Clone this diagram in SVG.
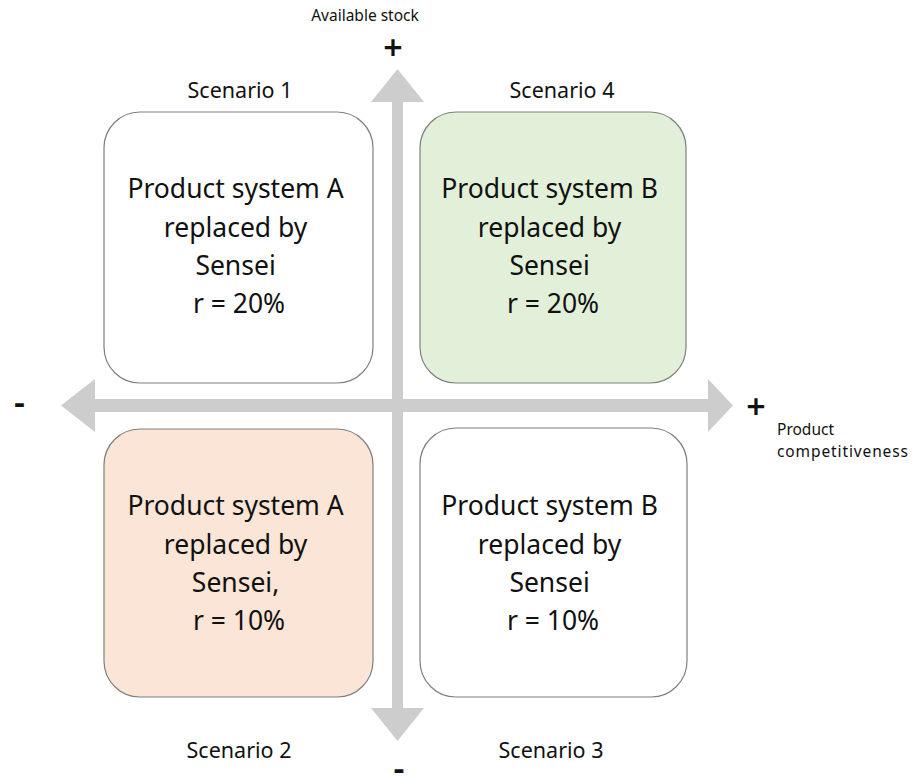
<svg xmlns="http://www.w3.org/2000/svg" width="912" height="776" viewBox="0 0 912 776">
  <style>
    .box { stroke: #7f7f7f; stroke-width: 1.2; }
    .axis { fill: #cdcdcd; }
    text { font-family: "Noto Sans", "Open Sans", "Liberation Sans", sans-serif; fill: #111111; }
    .body { font-size: 26.5px; text-anchor: middle; }
    .scen { font-size: 21.5px; text-anchor: middle; }
    .small { font-size: 15.5px; }
    .sign { font-size: 34px; font-weight: 600; text-anchor: middle; }
  </style>
  <rect width="912" height="776" fill="#ffffff"/>

  <!-- axes: two double-headed arrows crossing at the middle -->
  <g id="connectors">
    <polygon class="axis" points="61,405.5 95,379 95,399 708,399 708,379 733,405.5 708,432 708,412 95,412 95,432"/>
    <polygon class="axis" points="397.5,69 424,102 403,102 403,708 424,708 397.5,741 371,708 392,708 392,102 371,102"/>
  </g>

  <!-- axis labels -->
  <g id="axis-labels">
    <text class="small" x="365" y="21" text-anchor="middle">Available stock</text>
    <text class="sign" x="393" y="60">+</text>
    <text class="sign" x="756" y="419">+</text>
    <text class="sign" x="19.5" y="414">-</text>
    <text class="sign" x="399" y="780">-</text>
    <text class="small" x="777" y="435">Product</text>
    <text class="small" x="777" y="457" textLength="131" lengthAdjust="spacing">competitiveness</text>
  </g>

  <g id="scenario1">
    <text class="scen" x="240" y="98">Scenario 1</text>
    <rect class="box" x="104" y="112" width="269" height="271" rx="36" fill="#ffffff"/>
    <text class="body" x="239">
      <tspan x="239" y="198">Product system A</tspan>
      <tspan x="239" y="237">replaced by</tspan>
      <tspan x="239" y="275">Sensei</tspan>
      <tspan x="239" y="313">r = 20%</tspan>
    </text>
  </g>

  <g id="scenario4">
    <text class="scen" x="562" y="98">Scenario 4</text>
    <rect class="box" x="420" y="112" width="266" height="271" rx="36" fill="#e2f0d9"/>
    <text class="body" x="553">
      <tspan x="553" y="198">Product system B</tspan>
      <tspan x="553" y="237">replaced by</tspan>
      <tspan x="553" y="275">Sensei</tspan>
      <tspan x="553" y="313">r = 20%</tspan>
    </text>
  </g>

  <g id="scenario2">
    <rect class="box" x="104" y="429" width="269" height="268" rx="36" fill="#fbe5d6"/>
    <text class="body" x="239">
      <tspan x="239" y="515">Product system A</tspan>
      <tspan x="239" y="554">replaced by</tspan>
      <tspan x="239" y="592">Sensei,</tspan>
      <tspan x="239" y="630">r = 10%</tspan>
    </text>
    <text class="scen" x="239" y="758">Scenario 2</text>
  </g>

  <g id="scenario3">
    <rect class="box" x="420" y="428" width="267" height="269" rx="36" fill="#ffffff"/>
    <text class="body" x="553">
      <tspan x="553" y="515">Product system B</tspan>
      <tspan x="553" y="554">replaced by</tspan>
      <tspan x="553" y="592">Sensei</tspan>
      <tspan x="553" y="630">r = 10%</tspan>
    </text>
    <text class="scen" x="551" y="758">Scenario 3</text>
  </g>
</svg>
